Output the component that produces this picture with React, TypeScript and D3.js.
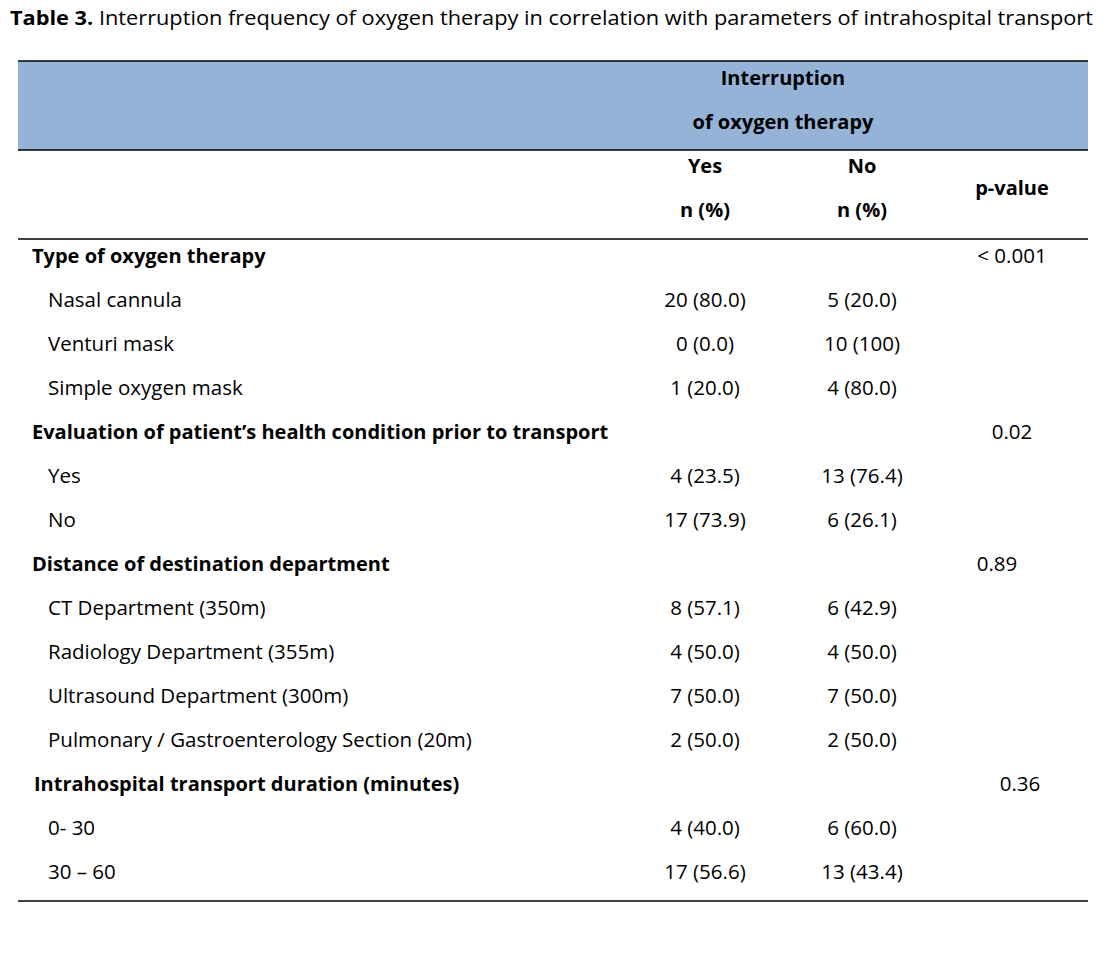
import React from "react";
import * as d3 from "d3";

const titleBold = "Table 3.";
const titleRest = " Interruption frequency of oxygen therapy in correlation with parameters of intrahospital transport";

const headerTop = ["Interruption", "of oxygen therapy"];
const colHeads = ["Yes", "No"];
const colSub = "n (%)";
const pHead = "p-value";

const sectionTitles = [
  "Type of oxygen therapy",
  "Evaluation of patient’s health condition prior to transport",
  "Distance of destination department",
  "Intrahospital transport duration (minutes)",
];
const pValues = ["< 0.001", "0.02", "0.89", "0.36"];

const rowSection = [0, 0, 0, 1, 1, 2, 2, 2, 2, 3, 3];
const rowLabels = [
  "Nasal cannula",
  "Venturi mask",
  "Simple oxygen mask",
  "Yes",
  "No",
  "CT Department (350m)",
  "Radiology Department (355m)",
  "Ultrasound Department (300m)",
  "Pulmonary / Gastroenterology Section (20m)",
  "0- 30",
  "30 – 60",
];
const yesN = [20, 0, 1, 4, 17, 8, 4, 7, 2, 4, 17];
const yesPct = ["80.0", "0.0", "20.0", "23.5", "73.9", "57.1", "50.0", "50.0", "50.0", "40.0", "56.6"];
const noN = [5, 10, 4, 13, 6, 6, 4, 7, 2, 6, 13];
const noPct = ["20.0", "100", "80.0", "76.4", "26.1", "42.9", "50.0", "50.0", "50.0", "60.0", "43.4"];

// layout only
const pOffsets = [0, 0, -15, 8];

export default function App() {
  const W = 1107;
  const H = 974;
  const font = "'Open Sans', sans-serif";
  const fsB = 20;
  const fsR = 20.5;

  type Row = { kind: "sec" | "item"; label: string; yes?: string; no?: string; p?: string; sec: number };
  const rows: Row[] = [];
  sectionTitles.forEach((t, s) => {
    rows.push({ kind: "sec", label: t, p: pValues[s], sec: s });
    rowLabels.forEach((l, i) => {
      if (rowSection[i] === s) {
        rows.push({
          kind: "item",
          label: l,
          yes: `${yesN[i]} (${yesPct[i]})`,
          no: `${noN[i]} (${noPct[i]})`,
          sec: s,
        });
      }
    });
  });

  const y = d3.scaleLinear().domain([0, rows.length - 1]).range([256, 256 + 44 * (rows.length - 1)]);
  const x = d3.scaleOrdinal<string, number>().domain(["yes", "no", "p"]).range([705, 862, 1012]);

  const left = 18;
  const right = 1088;
  const lineW = 1.5;

  return (
    <svg width={W} height={H} style={{ display: "block", position: "absolute", left: 0, top: 0, background: "#fff" }}>
      <rect x={0} y={0} width={W} height={H} fill="#fff" />
      <text x={10} y={25} fontFamily={font} fontSize={19.5} fill="#000" textLength={1083} lengthAdjust="spacingAndGlyphs">
        <tspan fontWeight="bold">{titleBold}</tspan>
        <tspan>{titleRest}</tspan>
      </text>
      <rect x={left} y={61} width={right - left} height={89} fill="#95B3D7" />
      <line x1={left} x2={right} y1={61} y2={61} stroke="#000" strokeWidth={lineW} />
      <line x1={left} x2={right} y1={150} y2={150} stroke="#000" strokeWidth={lineW} />
      <line x1={left} x2={right} y1={239} y2={239} stroke="#000" strokeWidth={lineW} />
      <line x1={left} x2={right} y1={901} y2={901} stroke="#000" strokeWidth={lineW} />
      {headerTop.map((h, i) => (
        <text key={h} x={783} y={78 + 44 * i} dy="0.35em" textAnchor="middle" fontFamily={font} fontSize={fsB} fontWeight="bold">
          {h}
        </text>
      ))}
      {colHeads.map((h, i) => (
        <g key={h}>
          <text x={x(i === 0 ? "yes" : "no")} y={166} dy="0.35em" textAnchor="middle" fontFamily={font} fontSize={fsB} fontWeight="bold">
            {h}
          </text>
          <text x={x(i === 0 ? "yes" : "no")} y={210} dy="0.35em" textAnchor="middle" fontFamily={font} fontSize={fsB} fontWeight="bold">
            {colSub}
          </text>
        </g>
      ))}
      <text x={x("p")} y={188} dy="0.35em" textAnchor="middle" fontFamily={font} fontSize={fsB} fontWeight="bold">
        {pHead}
      </text>
      {rows.map((r, i) => (
        <g key={i} fontFamily={font} fill="#000">
          <text
            x={r.kind === "sec" ? (r.sec === 3 ? 34 : 32) : 48}
            y={y(i)}
            dy="0.35em"
            fontSize={r.kind === "sec" ? fsB : fsR}
            fontWeight={r.kind === "sec" ? "bold" : "normal"}
          >
            {r.label}
          </text>
          {r.kind === "sec" ? (
            <text x={x("p") + pOffsets[r.sec]} y={y(i)} dy="0.35em" textAnchor="middle" fontSize={fsR}>
              {r.p}
            </text>
          ) : (
            <>
              <text x={x("yes")} y={y(i)} dy="0.35em" textAnchor="middle" fontSize={fsR}>
                {r.yes}
              </text>
              <text x={x("no")} y={y(i)} dy="0.35em" textAnchor="middle" fontSize={fsR}>
                {r.no}
              </text>
            </>
          )}
        </g>
      ))}
    </svg>
  );
}
